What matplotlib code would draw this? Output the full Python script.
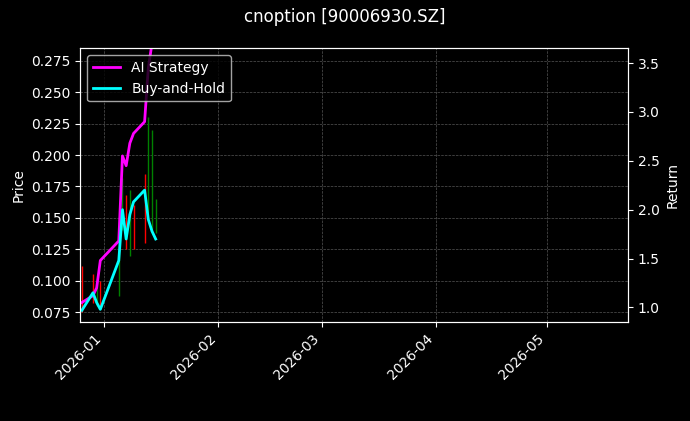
import pandas as pd
import matplotlib
matplotlib.use("Agg")
import matplotlib.pyplot as plt
import matplotlib.dates as mdates

# ── Data ─────────────────────────────────────────────────────────────────────
dates = pd.to_datetime([
    "2025-12-26", "2025-12-29", "2025-12-30", "2025-12-31", "2026-01-05",
    "2026-01-06", "2026-01-07", "2026-01-08", "2026-01-09", "2026-01-12",
    "2026-01-13", "2026-01-14", "2026-01-15",
])
opens  = [0.090, 0.100, 0.085, 0.095, 0.110, 0.150, 0.160, 0.130, 0.140, 0.170, 0.165, 0.150, 0.145]
closes = [0.085, 0.090, 0.095, 0.082, 0.145, 0.165, 0.135, 0.155, 0.135, 0.150, 0.175, 0.160, 0.150]
highs  = [0.112, 0.105, 0.100, 0.100, 0.150, 0.182, 0.168, 0.172, 0.160, 0.185, 0.230, 0.220, 0.165]
lows   = [0.075, 0.082, 0.080, 0.078, 0.088, 0.140, 0.125, 0.120, 0.125, 0.130, 0.150, 0.140, 0.138]

ai_ret   = [1.05, 1.12, 1.20, 1.48, 1.68, 2.55, 2.45, 2.68, 2.78, 2.90, 3.45, 3.70, 3.75]
hold_ret = [0.97, 1.15, 1.05, 0.98, 1.48, 2.00, 1.70, 1.95, 2.08, 2.20, 1.90, 1.78, 1.70]

# ── Plot ─────────────────────────────────────────────────────────────────────
plt.style.use("dark_background")
fig, ax = plt.subplots(figsize=(6.9, 4.21), dpi=100)
ax.set_facecolor("black")
fig.patch.set_facecolor("black")

for d, o, c, h, l in zip(dates, opens, closes, highs, lows):
    ax.vlines(d, l, h, color="green" if c >= o else "red", linewidth=1)

ax.set_ylabel("Price")
ax.set_ylim(0.067, 0.285)
ax.set_xlim(pd.Timestamp("2025-12-25 12:00"), pd.Timestamp("2026-05-23"))
ax.grid(True, linestyle="--", linewidth=0.5, color="#555555")

ax2 = ax.twinx()
ax2.plot(dates, ai_ret, color="magenta", linewidth=2, label="AI Strategy")
ax2.plot(dates, hold_ret, color="cyan", linewidth=2, label="Buy-and-Hold")
ax2.set_ylabel("Return")
ax2.set_ylim(0.85, 3.65)
ax2.legend(loc="upper left")

ax.xaxis.set_major_locator(mdates.MonthLocator())
ax.xaxis.set_major_formatter(mdates.DateFormatter("%Y-%m"))
plt.setp(ax.get_xticklabels(), rotation=45, ha="right")

fig.suptitle("cnoption [90006930.SZ]")
plt.subplots_adjust(left=0.116, right=0.91, top=0.885, bottom=0.235)
plt.savefig("out.png")
